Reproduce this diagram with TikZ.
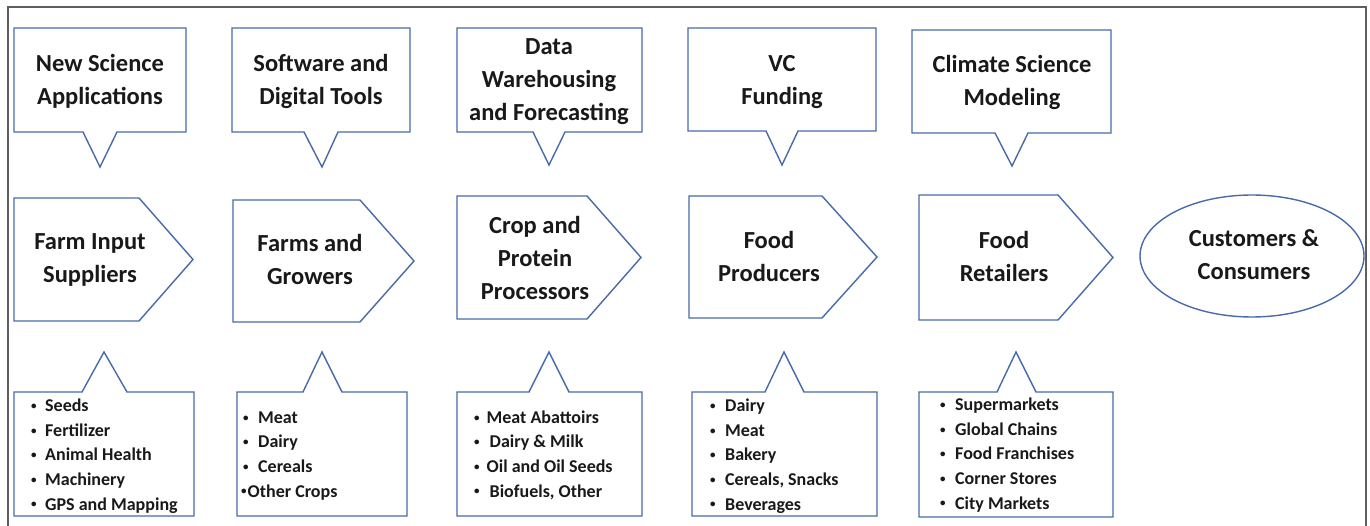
\documentclass[tikz,border=0pt]{standalone}
\usepackage{fontspec}
\setmainfont{Carlito}
\usetikzlibrary{shapes.geometric}

\definecolor{edgeblue}{RGB}{72,106,168}
\definecolor{framegray}{RGB}{95,95,95}
\definecolor{ink}{RGB}{25,25,25}

\tikzset{
  shape line/.style={draw=edgeblue, line width=1.4pt, line join=miter, fill=white},
  % multi-line nodes: the base anchor sits on the last line
  title text/.style={align=center, anchor=base, font=\bfseries\fontsize{24.5}{33}\selectfont, text=ink, inner sep=0pt},
  list text/.style={align=left, anchor=base west, font=\bfseries\fontsize{18}{24.6}\selectfont, text=ink, inner sep=0pt},
}

% callout pointing down: left, right, top, bottom, pointer-left, pointer-right, tip x, tip y
\newcommand{\downcallout}[8]{%
  \draw[shape line] (#1,#3) -- (#2,#3) -- (#2,#4) -- (#6,#4) -- (#7,#8) -- (#5,#4) -- (#1,#4) -- cycle;}
% callout pointing up: left, right, top, bottom, pointer-left, pointer-right, tip x, tip y
\newcommand{\upcallout}[8]{%
  \draw[shape line] (#1,#3) -- (#5,#3) -- (#7,#8) -- (#6,#3) -- (#2,#3) -- (#2,#4) -- (#1,#4) -- cycle;}
% pentagon stage: left, shoulder, point, top, bottom
\newcommand{\stagebox}[5]{%
  \draw[shape line] (#1,#4) -- (#2,#4) -- (#3,{(#4+#5)/2}) -- (#2,#5) -- (#1,#5) -- cycle;}
% list entry with a small bullet in a box of given width
\newcommand{\itm}[2]{\makebox[#1][l]{\raisebox{0.12em}{\fontsize{11}{11}\selectfont\textbullet}}#2}

\begin{document}
\begin{tikzpicture}[x=1pt,y=-1pt]
\useasboundingbox (0,0) rectangle (1370,526);

% outer frame (open at the bottom)
\draw[framegray, line width=1.3pt] (8,526) -- (8,7) -- (1366,7) -- (1366,526);

% ---- enabling technologies (top row) ----
\downcallout{14}{186}{28}{132}{83}{117}{100}{167}
\downcallout{232}{410}{28}{132}{304}{338}{322}{167}
\downcallout{457}{642}{28}{132}{533}{565}{549}{165}
\downcallout{688}{876}{28}{131}{766}{798}{782}{165}
\downcallout{912}{1111}{30}{133}{995}{1028}{1012}{166}

\node[title text] (sci)  at (100,105)  {New Science\\Applications};
\node[title text] (soft) at (321,105)  {Software and\\Digital Tools};
\node[title text] (data) at (549,121)  {Data\\Warehousing\\and Forecasting};
\node[title text] (vc)   at (782,105)  {VC\\Funding};
\node[title text] (clim) at (1012,106) {Climate Science\\Modeling};

% ---- value chain stages (middle row) ----
\stagebox{14}{139}{193}{198}{321}
\stagebox{233}{360}{414}{200}{322}
\stagebox{457}{587}{641}{196}{319}
\stagebox{689}{822}{877}{196}{318}
\stagebox{919}{1058}{1113}{195}{320}
\draw[shape line] (1252,256) ellipse [x radius=112, y radius=61];

\node[title text] (inputs)  at (90,283)   {Farm Input\\Suppliers};
\node[title text] (farms)   at (310,285)  {Farms and\\Growers};
\node[title text] (proc)    at (535,300)  {Crop and\\Protein\\Processors};
\node[title text] (prod)    at (769,282)  {Food\\Producers};
\node[title text] (retail)  at (1004,282) {Food\\Retailers};
\node[title text] (consum)  at (1254,280) {Customers \&\\Consumers};

% ---- segment details (bottom row) ----
\upcallout{14}{194}{392}{516}{82}{127}{104}{352}
\upcallout{237}{407}{392}{516}{303}{342}{322}{352}
\upcallout{457}{642}{392}{516}{529}{569}{549}{352}
\upcallout{692}{877}{392}{516}{765}{804}{784}{352}
\upcallout{919}{1113}{392}{517}{997}{1036}{1016}{352}

\node[list text] (inlist) at (31,510) {%
  \itm{14pt}{Seeds}\\ \itm{14pt}{Fertilizer}\\ \itm{14pt}{Animal Health}\\
  \itm{14pt}{Machinery}\\ \itm{14pt}{GPS and Mapping}};
\node[list text] (farmlist) at (243,497) {%
  \itm{15pt}{Meat}\\ \itm{15pt}{Dairy}\\ \itm{15pt}{Cereals}\\ \hspace{-2pt}\itm{6.5pt}{Other Crops}};
\node[list text] (proclist) at (474,497) {%
  \itm{12.5pt}{Meat Abattoirs}\\ \itm{15.5pt}{Dairy \& Milk}\\ \itm{12.5pt}{Oil and Oil Seeds}\\ \itm{15.5pt}{Biofuels, Other}};
\node[list text] (prodlist) at (710,510) {%
  \itm{15pt}{Dairy}\\ \itm{15pt}{Meat}\\ \itm{15pt}{Bakery}\\
  \itm{15pt}{Cereals, Snacks}\\ \itm{15pt}{Beverages}};
\node[list text] (retlist) at (940,509) {%
  \itm{15pt}{Supermarkets}\\ \itm{15pt}{Global Chains}\\ \itm{15pt}{Food Franchises}\\
  \itm{15pt}{Corner Stores}\\ \itm{15pt}{City Markets}};
\end{tikzpicture}
\end{document}
